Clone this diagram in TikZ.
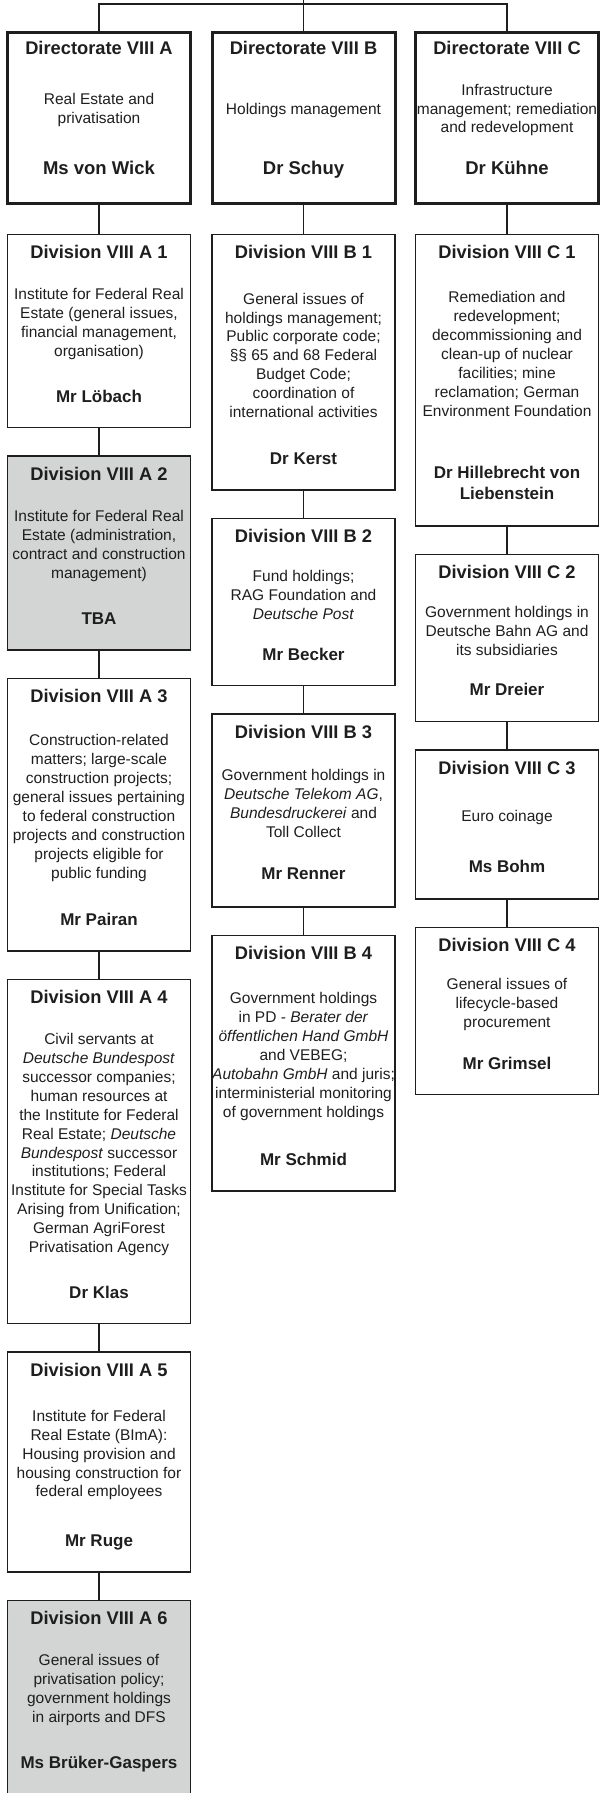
\documentclass[tikz,border=0pt]{standalone}
\usepackage{fontspec}
\setmainfont{Liberation Sans}
\usetikzlibrary{positioning,calc}

\definecolor{boxline}{HTML}{1E1E1E}
\definecolor{boxgray}{HTML}{D3D4D4}

\begin{document}
\begin{tikzpicture}[x=1pt,y=1pt,node distance=28.5pt]

  \tikzset{
    dirbox/.style={draw=boxline,line width=3pt,minimum width=183pt,minimum height=171pt,outer sep=0pt,inner sep=0pt},
    divbox/.style={draw=boxline,line width=1.2pt,minimum width=183pt,outer sep=0pt,inner sep=0pt},
    vacant/.style={divbox,fill=boxgray},
    ttl/.style={anchor=base,text=boxline,font=\fontsize{18.3}{21}\selectfont\bfseries},
    boss/.style={anchor=base,text=boxline,font=\fontsize{18.5}{21}\selectfont\bfseries},
    who/.style={anchor=base,text=boxline,font=\fontsize{17}{21}\selectfont\bfseries},
    txt/.style={align=center,text=boxline,font=\fontsize{15.5}{18.9}\selectfont},
    conn/.style={draw=boxline,line width=1.2pt},
  }

  \useasboundingbox (0,0) rectangle (600,-1793);

   % DIRECTORATES

   \node[dirbox] (dira) at (99,-118) {};
   \node[dirbox,right=21.5pt of dira] (dirb) {};
   \node[dirbox,right=20.5pt of dirb] (dirc) {};
   \coordinate (root) at ($(dirb.north)+(0,32.5)$);
   \draw[conn] (dira.north) |- ($(dirb.north)+(0,28.5)$) -| (dirc.north);
   \draw[conn] (dirb.north) -- (root);

   \node[ttl] (tdira) at ($(dira.north)+(0,-21.7)$) {Directorate VIII A};
   \node[txt] (bdira) at ($(dira.center)+(0,8)$) {Real Estate and\\privatisation};
   \node[boss] (ndira) at ($(dira.south)+(0,28.6)$) {Ms von Wick};

   \node[ttl] (tdirb) at ($(dirb.north)+(0,-21.7)$) {Directorate VIII B};
   \node[txt] (bdirb) at ($(dirb.center)+(0,8)$) {Holdings management};
   \node[boss] (ndirb) at ($(dirb.south)+(0,28.6)$) {Dr Schuy};

   \node[ttl] (tdirc) at ($(dirc.north)+(0,-21.7)$) {Directorate VIII C};
   \node[txt] (bdirc) at ($(dirc.center)+(0,8)$) {Infrastructure\\management; remediation\\and redevelopment};
   \node[boss] (ndirc) at ($(dirc.south)+(0,28.6)$) {Dr Kühne};

   % VIII A

   \node[divbox,minimum height=193pt,below=31pt of dira] (diva1) {};
   \draw[conn] (dira) -- (diva1);
   \node[ttl] (ta1) at ($(diva1.north)+(0,-24)$) {Division VIII A 1};
   \node[txt] (ba1) at ($(diva1.center)+(0,6.9)$) {Institute for Federal Real\\Estate (general issues,\\financial management,\\organisation)};
   \node[who] (na1) at ($(diva1.south)+(0,25.3)$) {Mr Löbach};

   \node[vacant,minimum height=194pt,below=of diva1] (diva2) {};
   \draw[conn] (diva1) -- (diva2);
   \node[ttl] (ta2) at ($(diva2.north)+(0,-24)$) {Division VIII A 2};
   \node[txt] (ba2) at ($(diva2.center)+(0,6.9)$) {Institute for Federal Real\\Estate (administration,\\contract and construction\\management)};
   \node[who] (na2) at ($(diva2.south)+(0,25.3)$) {TBA};

   \node[divbox,minimum height=272.5pt,below=of diva2] (diva3) {};
   \draw[conn] (diva2) -- (diva3);
   \node[ttl] (ta3) at ($(diva3.north)+(0,-24)$) {Division VIII A 3};
   \node[txt] (ba3) at ($(diva3.center)+(0,6.9)$) {Construction-related\\matters; large-scale\\construction projects;\\general issues pertaining\\to federal construction\\projects and construction\\projects eligible for\\public funding};
   \node[who] (na3) at ($(diva3.south)+(0,25.3)$) {Mr Pairan};

   \node[divbox,minimum height=344pt,below=of diva3] (diva4) {};
   \draw[conn] (diva3) -- (diva4);
   \node[ttl] (ta4) at ($(diva4.north)+(0,-24)$) {Division VIII A 4};
   \node[txt] (ba4) at ($(diva4.center)+(0,6.9)$) {Civil servants at\\\textit{Deutsche Bundespost}\\successor companies;\\human resources at\\the Institute for Federal\\Real Estate; \textit{Deutsche}\\\textit{Bundespost} successor\\institutions; Federal\\Institute for Special Tasks\\Arising from Unification;\\German AgriForest\\Privatisation Agency};
   \node[who] (na4) at ($(diva4.south)+(0,25.3)$) {Dr Klas};

   \node[divbox,minimum height=220pt,below=of diva4] (diva5) {};
   \draw[conn] (diva4) -- (diva5);
   \node[ttl] (ta5) at ($(diva5.north)+(0,-24)$) {Division VIII A 5};
   \node[txt] (ba5) at ($(diva5.center)+(0,6.9)$) {Institute for Federal\\Real Estate (BImA):\\Housing provision and\\housing construction for\\federal employees};
   \node[who] (na5) at ($(diva5.south)+(0,25.3)$) {Mr Ruge};

   \node[vacant,minimum height=200pt,below=of diva5] (diva6) {};
   \draw[conn] (diva5) -- (diva6);
   \node[ttl] (ta6) at ($(diva6.north)+(0,-24)$) {Division VIII A 6};
   \node[txt] (ba6) at ($(diva6.north)+(0,-89.2)$) {General issues of\\privatisation policy;\\government holdings\\in airports and DFS};
   \node[who] (na6) at ($(diva6.north)+(0,-167.5)$) {Ms Brüker-Gaspers};

   % VIII B

   \node[divbox,minimum height=255.5pt,below=31pt of dirb] (divb1) {};
   \draw[conn] (dirb) -- (divb1);
   \node[ttl] (tb1) at ($(divb1.north)+(0,-24)$) {Division VIII B 1};
   \node[txt] (bb1) at ($(divb1.center)+(0,6.9)$) {General issues of\\holdings management;\\Public corporate code;\\§§ 65 and 68 Federal\\Budget Code;\\coordination of\\international activities};
   \node[who] (nb1) at ($(divb1.south)+(0,25.3)$) {Dr Kerst};

   \node[divbox,minimum height=167pt,below=of divb1] (divb2) {};
   \draw[conn] (divb1) -- (divb2);
   \node[ttl] (tb2) at ($(divb2.north)+(0,-24)$) {Division VIII B 2};
   \node[txt] (bb2) at ($(divb2.center)+(0,6.9)$) {Fund holdings;\\RAG Foundation and\\\textit{Deutsche Post}};
   \node[who] (nb2) at ($(divb2.south)+(0,25.3)$) {Mr Becker};

   \node[divbox,minimum height=193pt,below=of divb2] (divb3) {};
   \draw[conn] (divb2) -- (divb3);
   \node[ttl] (tb3) at ($(divb3.north)+(0,-24)$) {Division VIII B 3};
   \node[txt] (bb3) at ($(divb3.center)+(0,6.9)$) {Government holdings in\\\textit{Deutsche Telekom AG},\\\textit{Bundesdruckerei} and\\Toll Collect};
   \node[who] (nb3) at ($(divb3.south)+(0,27.5)$) {Mr Renner};

   \node[divbox,minimum height=255.5pt,below=of divb3] (divb4) {};
   \draw[conn] (divb3) -- (divb4);
   \node[ttl] (tb4) at ($(divb4.north)+(0,-24)$) {Division VIII B 4};
   \node[txt] (bb4) at ($(divb4.center)+(0,6.9)$) {Government holdings\\in PD - \textit{Berater der}\\\textit{öffentlichen Hand GmbH}\\and VEBEG;\\\textit{Autobahn GmbH} and juris;\\interministerial monitoring\\of government holdings};
   \node[who] (nb4) at ($(divb4.south)+(0,25.3)$) {Mr Schmid};

   % VIII C

   \node[divbox,minimum height=291.5pt,below=31pt of dirc] (divc1) {};
   \draw[conn] (dirc) -- (divc1);
   \node[ttl] (tc1) at ($(divc1.north)+(0,-24)$) {Division VIII C 1};
   \node[txt] (bc1) at ($(divc1.center)+(0,26.3)$) {Remediation and\\redevelopment;\\decommissioning and\\clean-up of nuclear\\facilities; mine\\reclamation; German\\Environment Foundation};
   \node[who,anchor=center,align=center] (nc1) at ($(divc1.south)+(0,43.2)$) {Dr Hillebrecht von\\Liebenstein};

   \node[divbox,minimum height=167pt,below=of divc1] (divc2) {};
   \draw[conn] (divc1) -- (divc2);
   \node[ttl] (tc2) at ($(divc2.north)+(0,-24)$) {Division VIII C 2};
   \node[txt] (bc2) at ($(divc2.center)+(0,6.9)$) {Government holdings in\\Deutsche Bahn AG and\\its subsidiaries};
   \node[who] (nc2) at ($(divc2.south)+(0,26.5)$) {Mr Dreier};

   \node[divbox,minimum height=149pt,below=of divc2] (divc3) {};
   \draw[conn] (divc2) -- (divc3);
   \node[ttl] (tc3) at ($(divc3.north)+(0,-24)$) {Division VIII C 3};
   \node[txt] (bc3) at ($(divc3.center)+(0,6.9)$) {Euro coinage};
   \node[who] (nc3) at ($(divc3.south)+(0,26.3)$) {Ms Bohm};

   \node[divbox,minimum height=167pt,below=of divc3] (divc4) {};
   \draw[conn] (divc3) -- (divc4);
   \node[ttl] (tc4) at ($(divc4.north)+(0,-24)$) {Division VIII C 4};
   \node[txt] (bc4) at ($(divc4.center)+(0,6.9)$) {General issues of\\lifecycle-based\\procurement};
   \node[who] (nc4) at ($(divc4.south)+(0,25.3)$) {Mr Grimsel};

\end{tikzpicture}
\end{document}
